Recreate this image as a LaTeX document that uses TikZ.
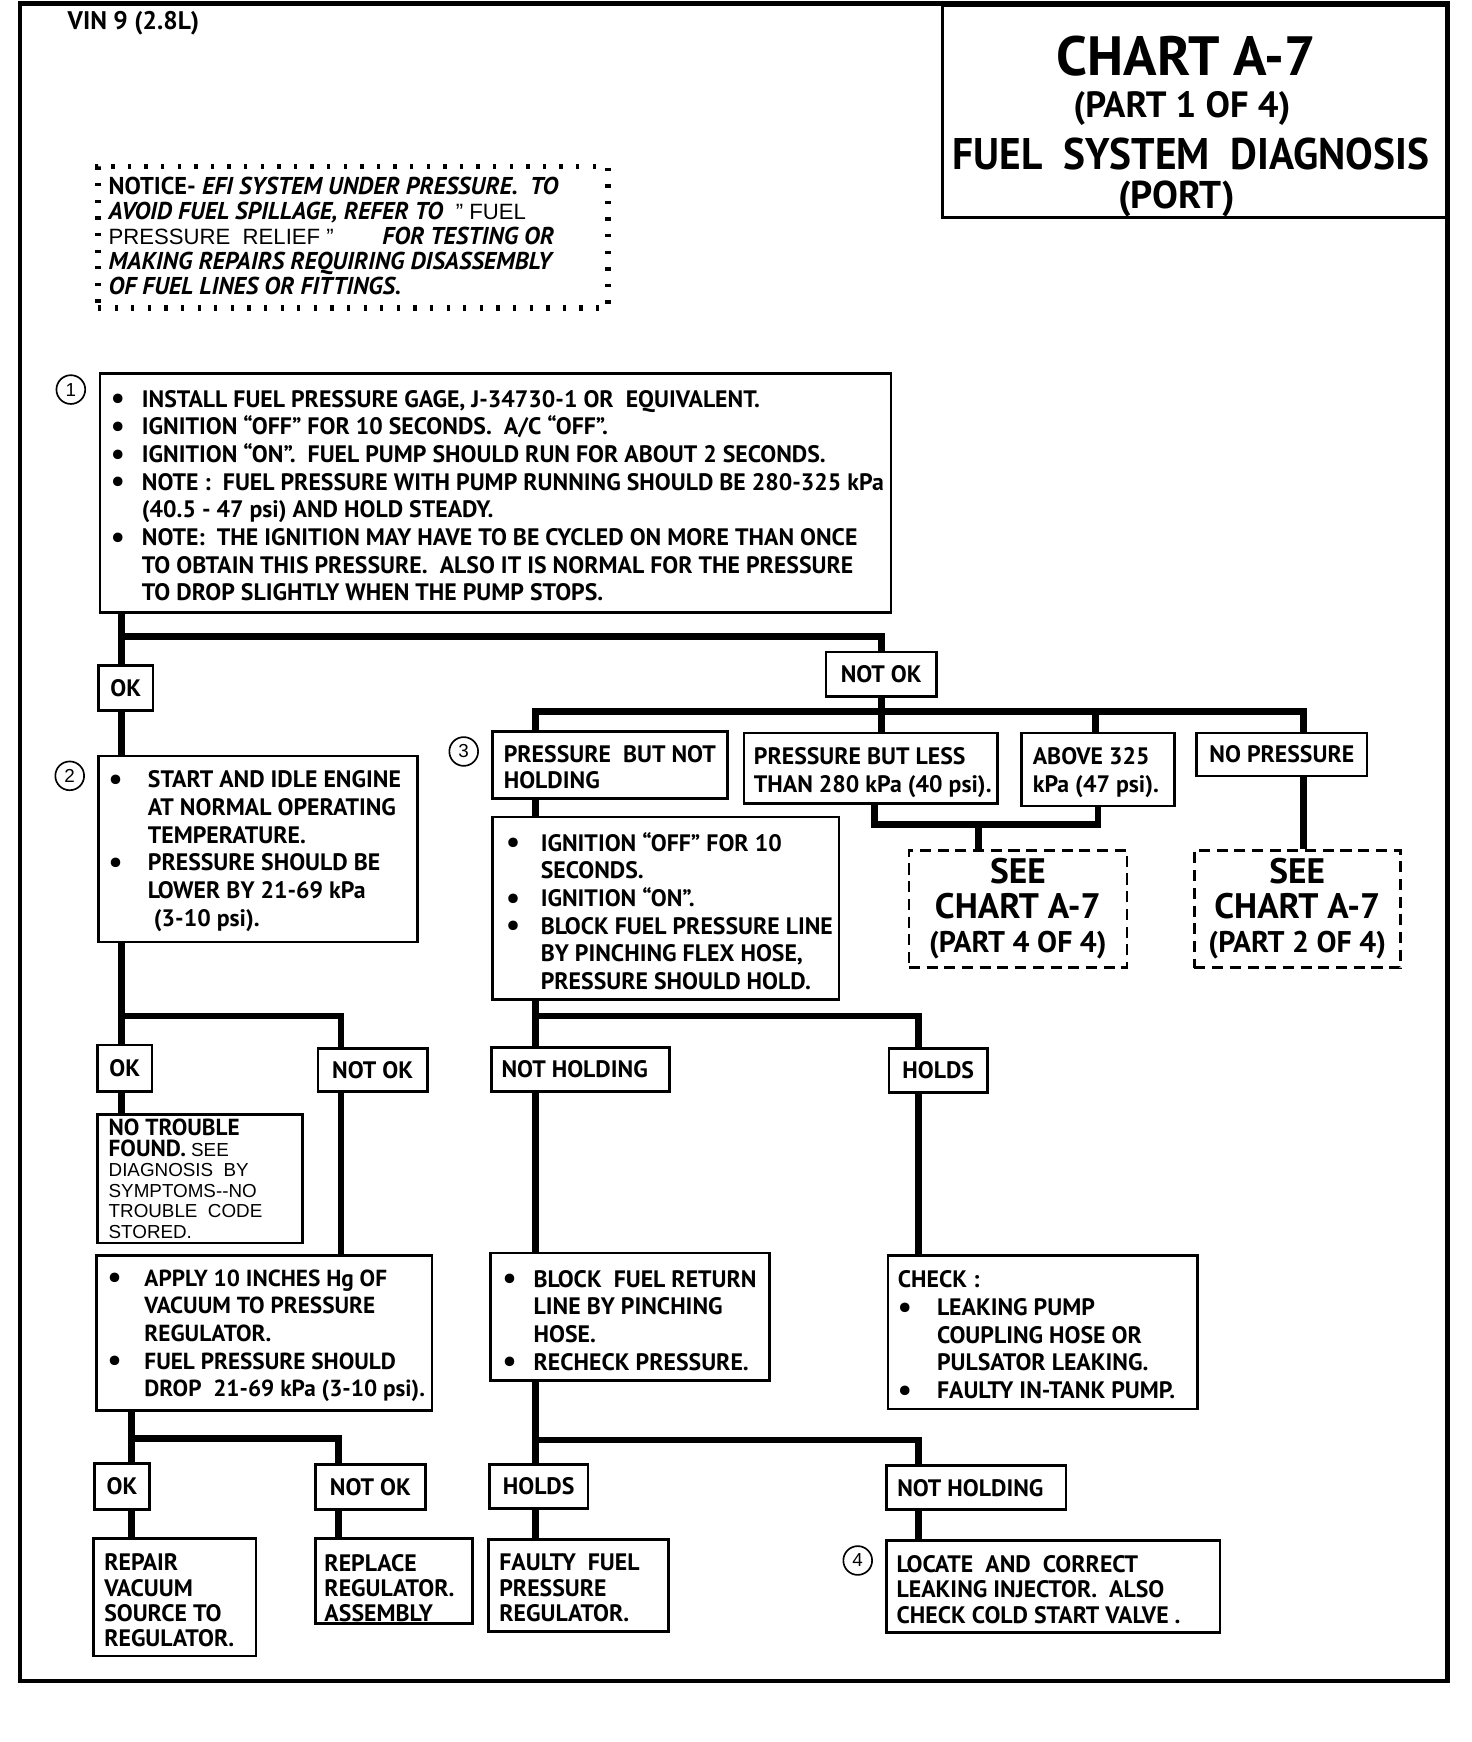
\documentclass[tikz,border=0pt]{standalone}
\usepackage{graphicx}
\usepackage{fontspec}
\setmainfont{PT Sans}
\newfontfamily\helv{Liberation Sans}
\newcommand\bodyf{\fontsize{21.5}{25}\selectfont\bfseries}
\newcommand\bul[1][28pt]{\makebox[#1][l]{\smash{\raisebox{-1.5pt}{\fontsize{28}{0}\selectfont •}}}}
\newcommand\ind[1][28pt]{\hspace*{#1}}
\begin{document}
\begin{tikzpicture}[x=1pt,y=-1pt,
  conn/.style={line width=6pt, line join=miter},
  box/.style={draw, line width=2.4pt, anchor=north west, inner sep=0pt},
  lab/.style={draw, line width=2.4pt, anchor=north west, inner sep=0pt, align=center, font=\bodyf},
  txt/.style={anchor=west, align=left, inner sep=0pt, font=\bodyf},
  num/.style={circle, draw, line width=1.5pt, minimum size=26pt, inner sep=0pt, font=\helv\fontsize{17}{17}\selectfont},
  seebox/.style={draw, line width=2.4pt, dash pattern=on 10pt off 6pt, anchor=north west, inner sep=0pt, align=center, font=\fontsize{32}{31}\selectfont\bfseries}]
\useasboundingbox (0,0) rectangle (1330,1574);
% outer frame
\draw[line width=4pt] (18,3) rectangle (1308,1519);
% title
\node[box, line width=2.5pt, minimum width=458pt, minimum height=191pt] (title) at (850,4) {};
\node[anchor=base, inner sep=0pt, font=\fontsize{50}{50}\selectfont\bfseries] (t1) at (1072,68) {CHART A-7};
\node[anchor=base, inner sep=0pt, font=\fontsize{33}{33}\selectfont\bfseries] (t2) at (1068,106) {(PART 1 OF 4)};
\node[anchor=base, inner sep=0pt, font=\fontsize{40}{40}\selectfont\bfseries] (t3) at (1076,153) {\scalebox{0.935}[1]{FUEL\ \ SYSTEM\ \ DIAGNOSIS}};
\node[anchor=base, inner sep=0pt, font=\fontsize{35}{35}\selectfont\bfseries] (t4) at (1063,188) {(PORT)};
\node[anchor=west, inner sep=0pt, font=\fontsize{23}{23}\selectfont\bfseries] (vin) at (61,21) {VIN 9 (2.8L)};
% notice
\node[box, line width=5pt, dash pattern=on 3pt off 12pt, minimum width=461pt, minimum height=128pt] (notice) at (86,148) {};
\node[txt, font=\fontsize{22}{22.5}\selectfont] (noticet) at (98,213) {%
{\bfseries NOTICE- \itshape EFI SYSTEM UNDER PRESSURE.\ \ TO}\\
{\bfseries\itshape AVOID FUEL SPILLAGE, REFER TO}\ \ {\helv\fontsize{20}{22.5}\selectfont ” FUEL}\\
{\helv\fontsize{20}{22.5}\selectfont PRESSURE\ \ RELIEF ”}\qquad{\bfseries\itshape FOR TESTING OR}\\
{\bfseries\itshape MAKING REPAIRS REQUIRING DISASSEMBLY}\\
{\bfseries\itshape OF FUEL LINES OR FITTINGS.}};
% step 1
\node[num] (c1) at (64,352) {1};
\node[box, minimum width=715pt, minimum height=216pt] (b1) at (89,336) {};
\node[txt] (b1t) at (100,448) {%
\bul INSTALL FUEL PRESSURE GAGE, J-34730-1 OR\ \ EQUIVALENT.\\
\bul IGNITION “OFF” FOR 10 SECONDS.\ \ A/C “OFF”.\\
\bul IGNITION “ON”.\ \ FUEL PUMP SHOULD RUN FOR ABOUT 2 SECONDS.\\
\bul NOTE :\ \ FUEL PRESSURE WITH PUMP RUNNING SHOULD BE 280-325 kPa\\
\ind (40.5 - 47 psi) AND HOLD STEADY.\\
\bul NOTE:\ \ THE IGNITION MAY HAVE TO BE CYCLED ON MORE THAN ONCE\\
\ind TO OBTAIN THIS PRESSURE.\ \ ALSO IT IS NORMAL FOR THE PRESSURE\\
\ind TO DROP SLIGHTLY WHEN THE PUMP STOPS.};
\node[lab, minimum width=49pt, minimum height=41pt] (ok1) at (88,600) {OK};
\node[lab, minimum width=100pt, minimum height=40pt] (notok1) at (745,588) {NOT OK};
% step 2
\node[num] (c2) at (63,701) {2};
\node[box, minimum width=288pt, minimum height=168pt] (b2) at (88,682) {};
\node[txt] (b2t) at (98,769) {%
\bul[30pt] START AND IDLE ENGINE\\
\ind[30pt] AT NORMAL OPERATING\\
\ind[30pt] TEMPERATURE.\\
\bul[30pt] PRESSURE SHOULD BE\\
\ind[30pt] LOWER BY 21-69 kPa\\
\ind[30pt] \ (3-10 psi).};
% step 3 branch
\node[num] (c3) at (419,679) {3};
\node[box, minimum width=212pt, minimum height=60pt] (pbnh) at (444,660) {};
\node[txt, font=\fontsize{21.5}{24}\selectfont\bfseries] (pbnht) at (455,693) {PRESSURE\ \ BUT NOT\\HOLDING};
\node[box, minimum width=229pt, minimum height=64pt] (pbl) at (671,661) {};
\node[txt, font=\fontsize{21.5}{25}\selectfont\bfseries] (pblt) at (681,698) {PRESSURE BUT LESS\\THAN 280 kPa (40 psi).};
\node[box, minimum width=138pt, minimum height=66pt] (a325) at (922,661) {};
\node[txt, font=\fontsize{21.5}{25}\selectfont\bfseries] (a325t) at (933,698) {ABOVE 325\\kPa (47 psi).};
\node[lab, minimum width=154pt, minimum height=39pt] (nop) at (1080,661) {NO PRESSURE};
\node[seebox, minimum width=197pt, minimum height=106pt] (see1) at (820,767) {SEE\\CHART A-7\\{\fontsize{27}{31}\selectfont (PART 4 OF 4)}};
\node[seebox, minimum width=186pt, minimum height=106pt] (see2) at (1078,767) {SEE\\CHART A-7\\{\fontsize{27}{31}\selectfont (PART 2 OF 4)}};
\node[box, minimum width=313pt, minimum height=165pt] (b3) at (444,737) {};
\node[txt] (b3t) at (457,823) {%
\bul[26pt] IGNITION “OFF” FOR 10\\
\ind[26pt] SECONDS.\\
\bul[26pt] IGNITION “ON”.\\
\bul[26pt] BLOCK FUEL PRESSURE LINE\\
\ind[26pt] BY PINCHING FLEX HOSE,\\
\ind[26pt] PRESSURE SHOULD HOLD.};
% left second level
\node[lab, minimum width=49pt, minimum height=42pt] (ok2) at (87,943) {OK};
\node[lab, minimum width=99pt, minimum height=39pt] (notok2) at (286,946) {NOT OK};
\node[box, minimum width=185pt, minimum height=116pt] (ntf) at (87,1006) {};
\node[txt, font=\helv\fontsize{17}{18.6}\selectfont] (ntft) at (98,1065) {%
{\rmfamily\bfseries\fontsize{21}{19}\selectfont NO TROUBLE}\\
{\rmfamily\bfseries\fontsize{21}{19}\selectfont FOUND.}\ SEE\\
DIAGNOSIS\ \ BY\\
SYMPTOMS--NO\\
TROUBLE\ \ CODE\\
STORED.};
\node[box, minimum width=303pt, minimum height=140pt] (apply) at (86,1133) {};
\node[txt, font=\fontsize{21}{25}\selectfont\bfseries] (applyt) at (97,1207) {%
\bul[28pt] APPLY 10 INCHES Hg OF\\
\ind[28pt] VACUUM TO PRESSURE\\
\ind[28pt] REGULATOR.\\
\bul[28pt] FUEL PRESSURE SHOULD\\
\ind[28pt] DROP\ \ 21-69 kPa (3-10 psi).};
\node[lab, minimum width=50pt, minimum height=42pt] (ok3) at (84,1321) {OK};
\node[lab, minimum width=99pt, minimum height=41pt] (notok3) at (284,1322) {NOT OK};
\node[box, minimum width=147pt, minimum height=106pt] (repair) at (83,1389) {};
\node[txt, font=\fontsize{21.5}{22.7}\selectfont\bfseries] (repairt) at (94,1446) {REPAIR\\VACUUM\\SOURCE TO\\REGULATOR.};
\node[box, minimum width=142pt, minimum height=77pt] (replace) at (284,1389) {};
\node[txt, font=\fontsize{21.5}{22.7}\selectfont\bfseries] (replacet) at (293,1435) {REPLACE\\REGULATOR.\\ASSEMBLY};
% middle
\node[lab, minimum width=161pt, minimum height=40pt] (nh1) at (443,945) {NOT HOLDING\ \ };
\node[lab, minimum width=89pt, minimum height=40pt] (holds1) at (802,946) {HOLDS};
\node[box, minimum width=252pt, minimum height=115pt] (block) at (442,1131) {};
\node[txt] (blockt) at (454,1193) {%
\bul BLOCK\ \ FUEL RETURN\\
\ind LINE BY PINCHING\\
\ind HOSE.\\
\bul RECHECK PRESSURE.};
\node[box, minimum width=280pt, minimum height=139pt] (check) at (801,1133) {};
\node[txt] (checkt) at (811,1206) {%
CHECK :\\
\bul[30pt] LEAKING PUMP\\
\ind[30pt] COUPLING HOSE OR\\
\ind[30pt] PULSATOR LEAKING.\\
\bul[30pt] FAULTY IN-TANK PUMP.};
\node[lab, minimum width=89pt, minimum height=40pt] (holds2) at (441,1322) {HOLDS};
\node[lab, minimum width=162pt, minimum height=40pt] (nh2) at (800,1323) {NOT HOLDING\ \ };
\node[box, minimum width=163pt, minimum height=83pt] (faulty) at (440,1390) {};
\node[txt, font=\fontsize{21.5}{23}\selectfont\bfseries] (faultyt) at (451,1435) {FAULTY\ \ FUEL\\PRESSURE\\REGULATOR.};
\node[num] (c4) at (775,1410) {4};
\node[box, minimum width=301pt, minimum height=83pt] (locate) at (800,1391) {};
\node[txt, font=\fontsize{21.5}{23}\selectfont\bfseries] (locatet) at (810,1436) {LOCATE\ \ AND\ \ CORRECT\\LEAKING INJECTOR.\ \ ALSO\\CHECK COLD START VALVE .};
% connectors
\coordinate (r1) at (110,575);
\draw[conn] (b1.south -| r1) -- (ok1.north -| r1);
\draw[conn] (r1) -| (notok1.north);
\draw[conn] (ok1.south -| r1) -- (b2.north -| r1);
\coordinate (r2) at (484,643);
\coordinate (r2e) at (1178,643);
\coordinate (d325) at (990,643);
\draw[conn] (notok1.south) -- (notok1.south |- pbl.north);
\draw[conn] (r2 |- pbnh.north) -- (r2) -- (r2e) -- (r2e |- nop.north);
\draw[conn] (d325) -- (d325 |- a325.north);
\coordinate (r3a) at (790,745);
\coordinate (r3b) at (992,745);
\coordinate (r3c) at (884,745);
\draw[conn] (r3a |- pbl.south) -- (r3a) -- (r3b) -- (r3b |- a325.south);
\draw[conn] (r3c) -- (r3c |- see1.north);
\draw[conn] (r2e |- nop.south) -- (r2e |- see2.north);
\coordinate (m) at (484,918);
\coordinate (m2) at (830,918);
\draw[conn] (m |- pbnh.south) -- (m |- b3.north);
\draw[conn] (m |- b3.south) -- (m);
\draw[conn] (m |- nh1.north) -- (m) -- (m2) -- (m2 |- holds1.north);
\draw[conn] (m |- nh1.south) -- (m |- block.north);
\draw[conn] (m2 |- holds1.south) -- (m2 |- check.north);
\coordinate (m3) at (484,1301);
\coordinate (m4) at (830,1301);
\draw[conn] (m3 |- block.south) -- (m3);
\draw[conn] (m3 |- holds2.north) -- (m3) -- (m4) -- (m4 |- nh2.north);
\draw[conn] (m3 |- holds2.south) -- (m3 |- faulty.north);
\draw[conn] (m4 |- nh2.south) -- (m4 |- locate.north);
\coordinate (l1) at (110,918);
\coordinate (l2) at (308,918);
\draw[conn] (l1 |- b2.south) -- (l1);
\draw[conn] (l1 |- ok2.north) -- (l1) -- (l2) -- (l2 |- notok2.north);
\draw[conn] (l1 |- ok2.south) -- (l1 |- ntf.north);
\draw[conn] (l2 |- notok2.south) -- (l2 |- apply.north);
\coordinate (l3) at (119,1300);
\coordinate (l4) at (306,1300);
\draw[conn] (l3 |- apply.south) -- (l3);
\draw[conn] (l3 |- ok3.north) -- (l3) -- (l4) -- (l4 |- notok3.north);
\draw[conn] (l3 |- ok3.south) -- (l3 |- repair.north);
\draw[conn] (l4 |- notok3.south) -- (l4 |- replace.north);
\end{tikzpicture}
\end{document}
